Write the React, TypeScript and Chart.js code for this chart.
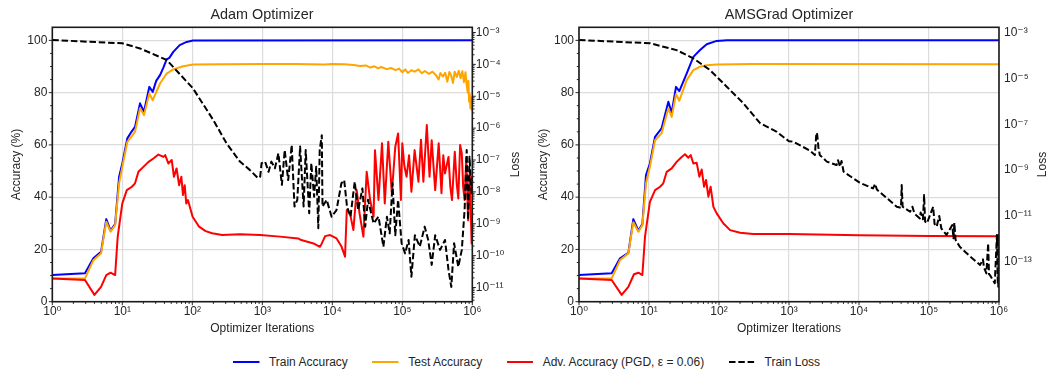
import { useEffect, useRef } from "react";
import { Chart, registerables } from "chart.js";

Chart.register(...registerables);

const FONT = "'Liberation Sans', Arial, 'DejaVu Sans', sans-serif";
const TEXT = "#262626";

// ---------- shared axis ticks ----------
const xTickValues = [1, 10, 100, 1000, 10000, 100000, 1000000];
const xTickLabels = ["10⁰", "10¹", "10²", "10³", "10⁴", "10⁵", "10⁶"];
const accTickValues = [0, 20, 40, 60, 80, 100];
const accTickLabels = ["0", "20", "40", "60", "80", "100"];
const adamLossTickValues = [1e-11, 1e-10, 1e-9, 1e-8, 1e-7, 1e-6, 1e-5, 1e-4, 1e-3];
const adamLossTickLabels = ["10⁻¹¹", "10⁻¹⁰", "10⁻⁹", "10⁻⁸", "10⁻⁷", "10⁻⁶", "10⁻⁵", "10⁻⁴", "10⁻³"];
const amsLossTickValues = [1e-13, 1e-11, 1e-9, 1e-7, 1e-5, 1e-3];
const amsLossTickLabels = ["10⁻¹³", "10⁻¹¹", "10⁻⁹", "10⁻⁷", "10⁻⁵", "10⁻³"];

const legendLabels = ["Train Accuracy", "Test Accuracy", "Adv. Accuracy (PGD, ε = 0.06)", "Train Loss"];
const legendColors = ["#0000ff", "#ffa500", "#ff0000", "#000000"];

// ---------- Adam panel ----------
const adamTrainIter = [1, 2.93, 3.86, 4.97, 5.9, 6.8, 7.9, 9.0, 10, 11.8, 13.5, 15.2, 17.9, 20.4, 24.3, 27.2, 30.5, 34.6, 38.5, 43, 47, 53.5, 66, 83, 102, 1000000];
const adamTrain = [10.2, 10.9, 16.6, 19.1, 31.6, 27.2, 29.7, 47.8, 52.9, 62.5, 65.0, 66.9, 75.9, 72.7, 82.2, 80.3, 84.5, 86.7, 89.5, 92.7, 93.3, 95.6, 98.2, 99.4, 99.96, 100];

const adamTestIter = [1, 2.93, 3.86, 4.97, 5.9, 6.8, 7.9, 9.0, 10, 11.8, 15.2, 17.9, 20.4, 24.3, 27.2, 34.6, 43, 53.5, 74, 103, 270, 1000, 3000, 7760,
  10000, 15000, 20000, 25000, 30000, 35000, 40000, 45000, 50000, 60000, 70000, 80000, 90000, 100000, 110000, 120000, 135000, 150000, 170000, 190000,
  210000, 240000, 270000, 300000, 330000, 350000, 380000, 410000, 440000, 470000, 500000, 530000, 560000, 600000, 640000, 680000, 720000, 760000,
  800000, 830000, 860000, 880000, 900000, 920000, 940000, 960000, 980000, 1000000];
const adamTest = [8.9, 8.9, 15.9, 18.5, 30.6, 26.8, 29.3, 45.3, 51.6, 61.2, 65.0, 74.0, 71.4, 79.7, 77.1, 83.5, 87.3, 88.9, 90.1, 90.8, 90.9, 91.0, 91.0, 90.8,
  91.0, 90.9, 90.6, 90.2, 90.4, 89.6, 90.1, 89.3, 89.8, 89.0, 89.4, 88.6, 89.2, 87.8, 88.9, 87.5, 88.6, 88.0, 88.9, 87.4,
  88.3, 87.2, 88.0, 86.8, 85.0, 87.5, 86.2, 87.6, 84.2, 87.9, 86.5, 83.7, 88.0, 86.0, 88.4, 85.5, 88.2, 84.0,
  87.8, 83.0, 80.0, 84.5, 76.5, 79.5, 74.0, 78.0, 73.5, 75.0];

const adamAdvIter = [1, 2.93, 4.0, 4.97, 5.9, 6.8, 7.9, 8.6, 10, 11.6, 13.7, 15.2, 17, 20, 23.7, 27.8, 32.8, 38.7, 41, 45.5, 50.8, 54.7, 59.6, 64.8, 69.8,
  73.6, 77.9, 82, 86.6, 101, 125, 155, 192, 267, 480, 930, 1790, 3250, 3600, 5400, 6650, 7000, 7900, 9300, 11500, 13600, 15200, 16100, 17900,
  20000, 22300, 24500, 27800, 31000, 34700, 38900, 40700, 45700, 51300, 56200, 63100, 70800, 79400, 87100, 95500, 100000, 107000, 115000, 125000,
  135000, 150000, 170000, 185000, 200000, 224000, 245000, 263000, 295000, 331000, 363000, 385000, 407000, 457000, 485000, 513000, 562000, 600000,
  631000, 670000, 708000, 740000, 776000, 820000, 871000, 920000, 977000, 1000000];
const adamAdv = [8.9, 8.3, 2.6, 5.7, 10.2, 11.1, 10.2, 24.9, 37.6, 42.7, 44.0, 45.3, 49.7, 51.6, 53.5, 54.8, 56.3, 55.4, 56.1, 52.9, 54.2, 47.8, 51.0, 44.6, 47.8,
  40.8, 44.6, 37.6, 38.9, 32.5, 28.7, 27.0, 26.2, 25.5, 25.8, 25.5, 24.9, 24.2, 23.6, 22.3, 21.0, 22.0, 25.1, 25.5, 24.2, 21.0, 17.2, 35.1, 33.8,
  27.4, 42.7, 33.8, 24.9, 49.7, 38.9, 32.5, 58.0, 38.9, 60.6, 37.6, 61.2, 41.5, 59.3, 64.4, 38.9, 60.6, 52.0, 47.8, 56.0,
  42.1, 58.0, 45.9, 62.0, 45.9, 67.6, 47.8, 61.8, 42.7, 60.6, 41.5, 56.0, 49.1, 55.4, 44.0, 38.9, 57.4, 45.0,
  39.5, 60.0, 56.7, 44.0, 38.9, 55.0, 31.2, 50.0, 22.3, 30.0];

const adamLossIter = [1, 10, 17.9, 43, 102, 200, 309, 479, 661, 871, 933, 977, 1096, 1230, 1349, 1514, 1698, 1905, 2089, 2344, 2630, 2884, 3162, 3467,
  3890, 4169, 4677, 5012, 5495, 5888, 6310, 6607, 7079, 7244, 8318, 9772, 11482, 13490, 14791, 16218, 18197, 20893, 23442, 26915, 29512, 32359,
  38905, 45709, 53703, 60256, 66069, 72444, 79433, 87096, 97724, 109648, 123027, 134896, 151356, 177828, 208930, 234423, 263027, 295121, 346737,
  407380, 457088, 501187, 549541, 630957, 707946, 776247, 831764, 870964, 912011, 977237, 1000000];
const adamLossLog10 = [-3.235, -3.34, -3.50, -3.86, -4.75, -5.75, -6.48, -7.05, -7.31, -7.57, -7.52, -7.10, -7.05, -7.37, -7.05, -7.26, -6.79, -7.78, -6.69, -7.63, -6.53, -8.46, -8.25, -6.58,
  -8.46, -6.69, -8.67, -7.10, -8.15, -7.21, -9.14, -6.69, -6.22, -8.46, -8.25, -8.78, -8.57, -7.73, -7.63, -8.46, -8.78, -7.68, -8.57, -7.89, -9.09, -8.25,
  -8.99, -8.78, -9.72, -8.78, -9.30, -7.73, -9.36, -8.25, -9.61, -9.93, -9.51, -10.66, -9.36, -9.72, -9.09, -9.51, -10.29, -9.36, -9.82,
  -9.51, -10.45, -10.98, -9.61, -10.35, -9.82, -8.57, -6.69, -8.88, -6.90, -8.04, -7.50];

// ---------- AMSGrad panel ----------
const amsTrainIter = [1, 2.93, 3.86, 5.07, 5.97, 7.05, 8.04, 9.06, 10.3, 12.2, 15.1, 18.9, 21.1, 24.3, 27.1, 34.5, 43, 53.6, 66.7, 92.7, 130, 1000000];
const amsTrain = [10.2, 10.9, 16.6, 18.7, 31.6, 27.2, 29.7, 48.5, 52.9, 63.1, 66.3, 76.5, 72.3, 82.2, 80.6, 87.3, 93.7, 96.3, 98.5, 99.8, 100, 100];

const amsTestIter = [1, 2.93, 3.86, 5.07, 5.97, 7.05, 8.04, 9.06, 10.3, 12.2, 15.1, 18.9, 21.1, 24.3, 27.1, 34.5, 43, 53.6, 66.7, 92.7, 300, 1000000];
const amsTest = [8.9, 8.9, 15.9, 18.5, 30.4, 26.8, 29.3, 45.3, 51.6, 61.8, 64.4, 74.0, 70.7, 79.4, 76.9, 84.8, 88.6, 89.9, 90.5, 90.8, 91.0, 90.9];

const amsAdvIter = [1, 2.93, 4.07, 5.07, 6.1, 7.05, 8.04, 8.77, 10.3, 12.2, 14.4, 16, 17.9, 21.1, 24.8, 29.3, 32.7, 36.5, 39.4, 43, 47.9, 52.5, 56.6,
  61.1, 65.3, 70.5, 75.9, 83.2, 92.7, 115, 144, 200, 309, 1000, 10000, 100000, 1000000];
const amsAdv = [8.9, 8.3, 2.6, 5.7, 10.5, 11.1, 10.2, 24.9, 38.2, 42.7, 44.0, 45.3, 49.7, 51.0, 53.5, 55.4, 56.4, 55.1, 56.1, 52.9, 53.2, 47.8, 50.6,
  44.0, 46.6, 40.2, 44.0, 36.3, 33.8, 30.0, 27.4, 26.4, 25.9, 25.9, 25.4, 25.1, 25.0];

const amsLossIter = [1, 10.3, 24.8, 43, 74.3, 129, 223, 331, 389, 661, 1000, 1148, 1995, 2344, 2455, 2512, 2630, 2754, 3467, 4786, 5012, 5370, 5623, 6026,
  10233, 15849, 17000, 18000, 25119, 34674, 39811, 40738, 42000, 53703, 58000, 62000, 74131, 76000, 82000, 85114, 88000, 93325, 114815, 120000,
  128825, 140000, 150000, 177828, 215000, 223872, 230000, 240000, 275423, 389045, 537032, 590000, 610000, 660693, 700000, 720000, 741310,
  870964, 933254, 960000, 977237, 990000, 1000000];
const amsLossLog10 = [-3.32, -3.46, -3.76, -4.12, -4.63, -5.36, -6.08, -6.71, -6.96, -7.32, -7.74, -7.76, -8.15, -8.34, -7.41, -7.37, -8.0, -8.34, -8.63, -8.78, -8.57, -8.85, -8.6, -9.07,
  -9.55, -9.80, -9.6, -9.85, -10.23, -10.60, -10.65, -9.65, -10.6, -10.82, -10.6, -10.9, -11.11, -10.85, -11.15, -10.09, -11.25, -11.32, -10.6, -11.35,
  -11.47, -11.0, -11.55, -11.83, -11.4, -11.98, -11.3, -12.05, -12.35, -12.78, -13.14, -12.9, -13.25, -13.51, -12.2, -13.55, -13.58,
  -13.94, -11.83, -13.9, -14.09, -11.8, -14.0];

type PanelCfg = {
  id: string;
  title: string;
  canvasLeft: number;
  canvasWidth: number;
  plotLeft: number;
  plotRight: number;
  accTitlePad: number;
  lossTitleX: number;
  lossMin: number;
  lossMax: number;
  lossTickValues: number[];
  lossTickLabels: string[];
  lossMinor: boolean;
  lossPad: number;
  trainIter: number[]; train: number[];
  testIter: number[]; test: number[];
  advIter: number[]; adv: number[];
  lossIter: number[]; lossLog10: number[];
};

const CANVAS_H = 345;
const PLOT_BOTTOM = 301.7;
const LINE_W = 2;
const DASH = [6.5, 2.8];

const panels: PanelCfg[] = [
  {
    id: "adam", title: "Adam Optimizer", canvasLeft: 0, canvasWidth: 524, plotLeft: 52.3, plotRight: 472.3,
    accTitlePad: 9.7, lossTitleX: 516, lossMin: Math.pow(10, -11.445), lossMax: Math.pow(10, -2.837),
    lossTickValues: adamLossTickValues, lossTickLabels: adamLossTickLabels, lossMinor: true, lossPad: 3.5,
    trainIter: adamTrainIter, train: adamTrain, testIter: adamTestIter, test: adamTest,
    advIter: adamAdvIter, adv: adamAdv, lossIter: adamLossIter, lossLog10: adamLossLog10,
  },
  {
    id: "ams", title: "AMSGrad Optimizer", canvasLeft: 531, canvasWidth: 516, plotLeft: 579, plotRight: 999,
    accTitlePad: 5.3, lossTitleX: 1042.7, lossMin: Math.pow(10, -14.747), lossMax: Math.pow(10, -2.764),
    lossTickValues: amsLossTickValues, lossTickLabels: amsLossTickLabels, lossMinor: false, lossPad: 5,
    trainIter: amsTrainIter, train: amsTrain, testIter: amsTestIter, test: amsTest,
    advIter: amsAdvIter, adv: amsAdv, lossIter: amsLossIter, lossLog10: amsLossLog10,
  },
];

const toXY = (xs: number[], ys: number[]) => xs.map((x, i) => ({ x, y: ys[i] }));

function makeDecor(p: PanelCfg) {
  return {
    id: "decor_" + p.id,
    afterDatasetsDraw(chart: any) {
      const { ctx, chartArea } = chart;
      const { left, right, top, bottom } = chartArea;
      const sx = chart.scales.x, sy = chart.scales.y, sy1 = chart.scales.y1;
      ctx.save();
      ctx.strokeStyle = TEXT;
      ctx.lineWidth = 1;
      const seg = (x0: number, y0: number, x1: number, y1: number) => {
        ctx.beginPath(); ctx.moveTo(x0, y0); ctx.lineTo(x1, y1); ctx.stroke();
      };
      for (let e = 0; e <= 6; e++) {
        for (let k = 1; k <= 9; k++) {
          const v = k * Math.pow(10, e);
          if (v > 1000000) break;
          const px = sx.getPixelForValue(v);
          seg(px, bottom, px, bottom + (k === 1 ? 3.5 : 2.2));
        }
      }
      for (let v = 0; v <= 100; v += 5) {
        const py = sy.getPixelForValue(v);
        seg(left, py, left - (v % 20 === 0 ? 3.5 : 2.2), py);
      }
      if (p.lossMinor) {
        for (let e = -12; e <= -3; e++) {
          for (let k = 1; k <= 9; k++) {
            const v = k * Math.pow(10, e);
            if (v < p.lossMin || v > p.lossMax) continue;
            const py = sy1.getPixelForValue(v);
            seg(right, py, right + (k === 1 ? 3.5 : 2.2), py);
          }
        }
      }
      ctx.strokeStyle = "#1a1a1a";
      ctx.lineWidth = 1.6;
      ctx.strokeRect(left, top, right - left, bottom - top);
      ctx.fillStyle = TEXT;
      ctx.font = `12px ${FONT}`;
      ctx.textAlign = "center";
      ctx.textBaseline = "middle";
      ctx.translate(p.lossTitleX - p.canvasLeft, (top + bottom) / 2);
      ctx.rotate(-Math.PI / 2);
      ctx.fillText("Loss", 0, 0);
      ctx.restore();
    },
  };
}

function buildConfig(p: PanelCfg): any {
  const tickFont = { family: FONT, size: 12 };
  const common = { pointRadius: 0, borderWidth: LINE_W, tension: 0, fill: false, borderJoinStyle: "round" };
  return {
    type: "line",
    data: {
      datasets: [
        { ...common, label: "Train Loss", data: toXY(p.lossIter, p.lossLog10.map((v) => Math.pow(10, v))), yAxisID: "y1", borderColor: "#000000", borderDash: DASH },
        { ...common, label: "Adv. Accuracy", data: toXY(p.advIter, p.adv), yAxisID: "y", borderColor: "#ff0000" },
        { ...common, label: "Test Accuracy", data: toXY(p.testIter, p.test), yAxisID: "y", borderColor: "#ffa500" },
        { ...common, label: "Train Accuracy", data: toXY(p.trainIter, p.train), yAxisID: "y", borderColor: "#0000ff" },
      ],
    },
    options: {
      animation: false,
      responsive: false,
      maintainAspectRatio: false,
      devicePixelRatio: 1,
      events: [],
      layout: { padding: 0 },
      plugins: {
        legend: { display: false },
        tooltip: { enabled: false },
        title: {
          display: true, text: p.title, color: TEXT,
          font: { family: FONT, size: 14.4, weight: "normal" },
          padding: { top: 6.56, bottom: 3.46 },
        },
      },
      scales: {
        x: {
          type: "logarithmic", position: "bottom", min: 1, max: 1000000,
          afterBuildTicks: (s: any) => { s.ticks = xTickValues.map((v) => ({ value: v })); },
          afterFit: (s: any) => { s.height = CANVAS_H - PLOT_BOTTOM; },
          ticks: { autoSkip: false, maxRotation: 0, minRotation: 0, padding: 3, color: TEXT, font: tickFont,
            callback: (_v: any, i: number) => xTickLabels[i] },
          grid: { color: "#dcdcdc", lineWidth: 1.2, drawTicks: false },
          border: { display: false },
          title: { display: true, text: "Optimizer Iterations", color: TEXT, font: tickFont, padding: { top: 0, bottom: 8.8 } },
        },
        y: {
          type: "linear", position: "left", min: 0, max: 105,
          afterBuildTicks: (s: any) => { s.ticks = accTickValues.map((v) => ({ value: v })); },
          afterFit: (s: any) => { s.width = p.plotLeft - p.canvasLeft; },
          ticks: { autoSkip: false, padding: 5, color: TEXT, font: tickFont, callback: (_v: any, i: number) => accTickLabels[i] },
          grid: { color: "#dcdcdc", lineWidth: 1.2, drawTicks: false },
          border: { display: false },
          title: { display: true, text: "Accuracy (%)", color: TEXT, font: tickFont, padding: { top: p.accTitlePad, bottom: 0 } },
        },
        y1: {
          type: "logarithmic", position: "right", min: p.lossMin, max: p.lossMax,
          afterBuildTicks: (s: any) => { s.ticks = p.lossTickValues.map((v) => ({ value: v })); },
          afterFit: (s: any) => { s.width = p.canvasLeft + p.canvasWidth - p.plotRight; },
          ticks: { autoSkip: false, padding: p.lossPad, color: TEXT, font: tickFont, callback: (_v: any, i: number) => p.lossTickLabels[i] },
          grid: { drawOnChartArea: false, drawTicks: false },
          border: { display: false },
        },
      },
    },
    plugins: [makeDecor(p)],
  };
}

function Panel({ p }: { p: PanelCfg }) {
  const ref = useRef<HTMLCanvasElement>(null);
  useEffect(() => {
    const chart = new Chart(ref.current as HTMLCanvasElement, buildConfig(p));
    return () => chart.destroy();
  }, [p]);
  return (
    <canvas
      ref={ref}
      width={p.canvasWidth}
      height={CANVAS_H}
      style={{ position: "absolute", left: p.canvasLeft, top: 0, width: p.canvasWidth, height: CANVAS_H }}
    />
  );
}

export default function App() {
  return (
    <div style={{ position: "fixed", left: 0, top: 0, width: 1047, height: 373, background: "#ffffff", overflow: "hidden" }}>
      {panels.map((p) => <Panel key={p.id} p={p} />)}
      <div style={{ position: "absolute", left: 233, top: 354, height: 16, display: "flex", alignItems: "center",
        font: `12px ${FONT}`, color: TEXT, whiteSpace: "nowrap" }}>
        {legendLabels.map((label, i) => (
          <div key={label} style={{ display: "flex", alignItems: "center", marginRight: i < legendLabels.length - 1 ? 24.5 : 0 }}>
            <svg width={26.5} height={6} style={{ marginRight: 9.4, display: "block" }}>
              <line x1={0} y1={3} x2={26.5} y2={3} stroke={legendColors[i]} strokeWidth={2}
                strokeDasharray={i === 3 ? "6.5 2.8" : undefined} />
            </svg>
            <span>{label}</span>
          </div>
        ))}
      </div>
    </div>
  );
}
